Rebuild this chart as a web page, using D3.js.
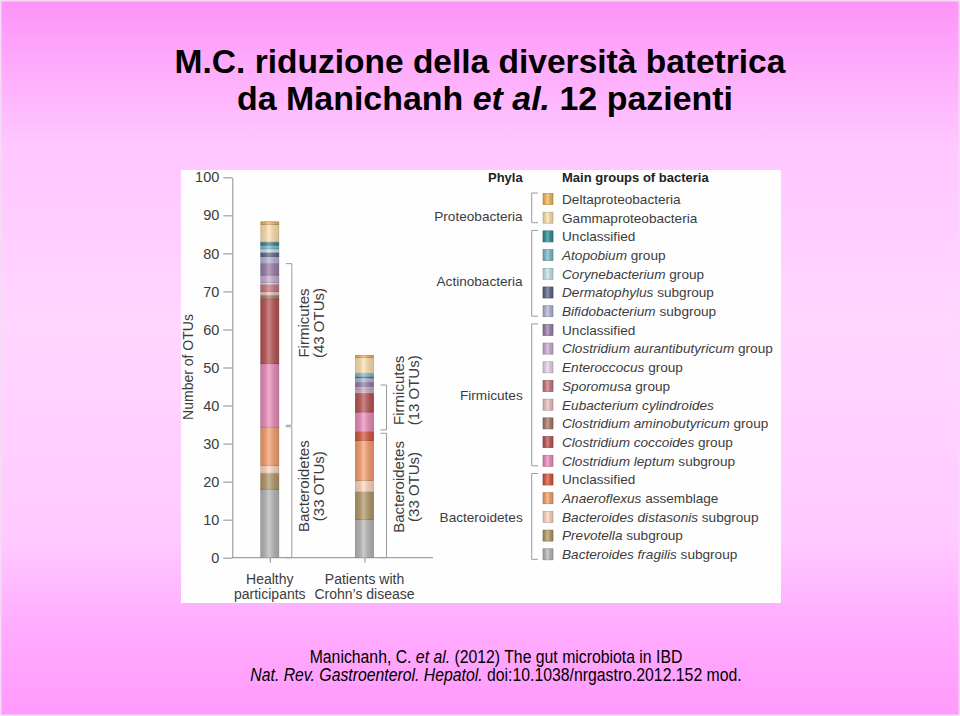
<!DOCTYPE html>
<html><head><meta charset="utf-8">
<script src="https://cdn.jsdelivr.net/npm/d3@7"></script>
<style>html,body{margin:0;padding:0;background:#fff}svg{display:block}</style>
</head><body>
<svg id="c" width="960" height="716"></svg>
<script>
// ---------- DATA ----------
const categories = ["Healthy participants", "Patients with Crohn’s disease"];
const categoryLines = [["Healthy", "participants"], ["Patients with", "Crohn’s disease"]];
const yTicks = [0, 10, 20, 30, 40, 50, 60, 70, 80, 90, 100];
// legend order (top to bottom)
const groupItalic = ["", "", "", "Atopobium", "Corynebacterium", "Dermatophylus", "Bifidobacterium", "",
  "Clostridium aurantibutyricum", "Enteroccocus", "Sporomusa", "Eubacterium cylindroides",
  "Clostridium aminobutyricum", "Clostridium coccoides", "Clostridium leptum", "",
  "Anaeroflexus", "Bacteroides distasonis", "Prevotella", "Bacteroides fragilis"];
const groupRest = ["Deltaproteobacteria", "Gammaproteobacteria", "Unclassified", " group", " group", " subgroup", " subgroup", "Unclassified",
  " group", " group", " group", "", " group", " group", " subgroup", "Unclassified",
  " assemblage", " subgroup", " subgroup", " subgroup"];
const groupColors = ["#f5b458", "#fde2ae", "#2a8a96", "#7cbaca", "#c6e3eb", "#5b6288", "#b3b5d5", "#9a7caa",
  "#c9acd1", "#ead5e9", "#c8747a", "#ecc2c4", "#a57767", "#b85150", "#ec8bbb", "#d9523a",
  "#f89e6c", "#fdd7c0", "#b29866", "#b7b7b7"];
// OTU counts per group, same order as legend
const healthyValues = [0.7, 4.6, 0.8, 1, 1, 1, 1.9, 3, 2, 0.5, 1.8, 1, 1, 17, 16.7, 0, 10, 2.1, 4.2, 18];
const crohnValues   = [0.6, 4.1, 0, 1, 0, 0.2, 1.2, 1, 1, 0.4, 0, 0.4, 0, 5, 5.2, 2.3, 10.5, 3, 7.3, 10];
// phyla
const phyla = ["Proteobacteria", "Actinobacteria", "Firmicutes", "Bacteroidetes"];
const phylaFirstRow = [0, 2, 7, 15];
const phylaLastRow = [1, 6, 14, 19];
const phylaLabelRow = [0.9, 4.4, 10.5, 17];
// brackets next to bars
const bracketCat = [0, 0, 1, 1];
const bracketStart = [0, 34.8, 0, 33.6];
const bracketEnd = [34.4, 77.3, 32.7, 45.4];
const bracketName = ["Bacteroidetes", "Firmicutes", "Bacteroidetes", "Firmicutes"];
const bracketCount = ["(33 OTUs)", "(43 OTUs)", "(33 OTUs)", "(13 OTUs)"];
const bracketLabelAt = [18.8, 61.7, 18.6, 44];

// ---------- DRAW ----------
const svg = d3.select("#c");
const defs = svg.append("defs");
const bg = defs.append("linearGradient").attr("id", "bg").attr("x1", 0).attr("y1", 0).attr("x2", 0).attr("y2", 1);
[[0, "#fd94f8"], [0.2, "#ffc6ff"], [0.45, "#ffd6ff"], [0.75, "#ffcaff"], [0.88, "#ffabff"], [1, "#ff9afb"]]
  .forEach(s => bg.append("stop").attr("offset", s[0]).attr("stop-color", s[1]));
const sh = defs.append("linearGradient").attr("id", "shade").attr("x1", 0).attr("y1", 0).attr("x2", 1).attr("y2", 0);
[[0, "#000", 0.12], [0.45, "#fff", 0.3], [1, "#000", 0.14]]
  .forEach(s => sh.append("stop").attr("offset", s[0]).attr("stop-color", s[1]).attr("stop-opacity", s[2]));

svg.append("rect").attr("width", 960).attr("height", 716).attr("fill", "url(#bg)");
svg.append("rect").attr("x", 0.75).attr("y", 0.75).attr("width", 958.5).attr("height", 714.5)
  .attr("fill", "none").attr("stroke", "#f3dcf3").attr("stroke-width", 1.5);

const font = "'Liberation Sans',Arial,sans-serif";
// narrow text: regular sans squeezed horizontally to the reference width
function narrowText(cx, cy, size, bold, target) {
  const g = svg.append("g");
  const t = g.append("text").attr("x", 0).attr("y", 0).attr("text-anchor", "middle")
    .attr("font-family", font).attr("font-weight", bold ? "bold" : "normal").attr("font-size", size).attr("fill", "#000");
  return { g, t, fit() {
    const w = t.node().getComputedTextLength();
    const s = w > 0 ? target / w : 1;
    g.attr("transform", `translate(${cx},${cy}) scale(${s.toFixed(4)},1)`);
  } };
}

// title
const t1 = narrowText(480, 73, 33, true, 611);
t1.t.text("M.C. riduzione della diversità batetrica"); t1.fit();
const t2 = narrowText(485, 110, 33, true, 496);
t2.t.append("tspan").text("da Manichanh ");
t2.t.append("tspan").attr("font-style", "italic").text("et al.");
t2.t.append("tspan").text(" 12 pazienti");
t2.fit();

// citation
const c1 = narrowText(496, 663, 17.5, false, 373);
c1.t.append("tspan").text("Manichanh, C. ");
c1.t.append("tspan").attr("font-style", "italic").text("et al.");
c1.t.append("tspan").text(" (2012) The gut microbiota in IBD");
c1.fit();
const c2 = narrowText(496, 681, 17.5, false, 492);
c2.t.append("tspan").attr("font-style", "italic").text("Nat. Rev. Gastroenterol. Hepatol.");
c2.t.append("tspan").text(" doi:10.1038/nrgastro.2012.152 mod.");
c2.fit();

// panel
svg.append("rect").attr("x", 181).attr("y", 170).attr("width", 600).attr("height", 433).attr("fill", "#fefefe");

const txt = "#3c3c3c";
const axisCol = "#8c8c8c";

const y = d3.scaleLinear().domain([0, 100]).range([557.7, 177.3]);
const x = d3.scalePoint().domain(categories).range([269.8, 364.5]);
const barW = 18;

// y axis
const ya = svg.append("g").attr("transform", "translate(232.3,0)")
  .call(d3.axisLeft(y).tickValues(yTicks).tickSize(9).tickSizeOuter(0).tickPadding(4));
ya.select(".domain").attr("stroke", axisCol);
ya.selectAll(".tick line").attr("stroke", axisCol);
ya.selectAll(".tick text").attr("font-family", font).attr("font-size", 14.5).attr("fill", txt);

svg.append("text").attr("transform", "translate(193,367) rotate(-90)").attr("text-anchor", "middle")
  .attr("font-family", font).attr("font-size", 14).attr("fill", txt).text("Number of OTUs");

// x axis
const xa = svg.append("g").attr("transform", `translate(0,${y(0)})`)
  .call(d3.axisBottom(x).tickSize(5).tickFormat(""));
xa.select(".domain").remove();
xa.selectAll(".tick line").attr("stroke", axisCol);
svg.append("line").attr("x1", 232.3).attr("x2", 433).attr("y1", y(0)).attr("y2", y(0)).attr("stroke", axisCol);
categories.forEach((c, i) => {
  const t = svg.append("text").attr("x", x(c)).attr("y", 584).attr("text-anchor", "middle")
    .attr("font-family", font).attr("font-size", 14).attr("fill", txt);
  categoryLines[i].forEach((l, j) => t.append("tspan").attr("x", x(c)).attr("dy", j ? 15 : 0).text(l));
});

// bars
[healthyValues, crohnValues].forEach((vals, ci) => {
  const cx = x(categories[ci]);
  const g = svg.append("g");
  let acc = 0;
  const segs = [];
  for (let k = vals.length - 1; k >= 0; k--) {
    if (vals[k] > 0) { segs.push({ k, y0: acc, y1: acc + vals[k] }); }
    acc += vals[k];
  }
  g.selectAll("rect.seg").data(segs).join("rect").attr("class", "seg")
    .attr("x", cx - barW / 2).attr("width", barW)
    .attr("y", d => y(d.y1)).attr("height", d => y(d.y0) - y(d.y1))
    .attr("fill", d => groupColors[d.k])
    .attr("stroke", d => d3.color(groupColors[d.k]).darker(0.7)).attr("stroke-width", 0.7);
  g.append("rect").attr("x", cx - barW / 2).attr("width", barW)
    .attr("y", y(acc)).attr("height", y(0) - y(acc)).attr("fill", "url(#shade)");
});

// brackets beside bars
bracketCat.forEach((ci, i) => {
  const bx = x(categories[ci]) + 22;
  const y0 = y(bracketStart[i]), y1 = y(bracketEnd[i]);
  svg.append("path").attr("d", `M${bx - 6},${y0}H${bx}V${y1}H${bx - 6}`)
    .attr("fill", "none").attr("stroke", "#9a9a9a").attr("stroke-width", 1);
  const ly = y(bracketLabelAt[i]);
  svg.append("text").attr("transform", `translate(${bx + 17.5},${ly}) rotate(-90)`).attr("text-anchor", "middle")
    .attr("font-family", font).attr("font-size", 15).attr("fill", txt).text(bracketName[i]);
  svg.append("text").attr("transform", `translate(${bx + 32.5},${ly}) rotate(-90)`).attr("text-anchor", "middle")
    .attr("font-family", font).attr("font-size", 15).attr("fill", txt).text(bracketCount[i]);
});

// legend
const rowY = r => 199 + r * 18.7;
svg.append("text").attr("x", 522.7).attr("y", 182).attr("text-anchor", "end").attr("font-family", font)
  .attr("font-weight", "bold").attr("font-size", 13).attr("fill", "#222").text("Phyla");
svg.append("text").attr("x", 562).attr("y", 182).attr("font-family", font)
  .attr("font-weight", "bold").attr("font-size", 13).attr("fill", "#222").text("Main groups of bacteria");

groupColors.forEach((col, r) => {
  const cy = rowY(r);
  svg.append("rect").attr("x", 543).attr("y", cy - 5.5).attr("width", 10).attr("height", 11)
    .attr("fill", col).attr("stroke", d3.color(col).darker(0.7)).attr("stroke-width", 0.7);
  svg.append("rect").attr("x", 543).attr("y", cy - 5.5).attr("width", 10).attr("height", 11).attr("fill", "url(#shade)");
  const t = svg.append("text").attr("x", 562).attr("y", cy + 4.8).attr("font-family", font)
    .attr("font-size", 13.6).attr("fill", txt);
  if (groupItalic[r]) t.append("tspan").attr("font-style", "italic").text(groupItalic[r]);
  if (groupRest[r]) t.append("tspan").text(groupRest[r]);
});

phyla.forEach((p, i) => {
  const top = rowY(phylaFirstRow[i]) - 6, bot = rowY(phylaLastRow[i]) + 5;
  svg.append("path").attr("d", `M538,${top}H531.7V${bot}H538`).attr("fill", "none")
    .attr("stroke", "#9a9a9a").attr("stroke-width", 1);
  svg.append("text").attr("x", 522.7).attr("y", rowY(phylaLabelRow[i]) + 4.8).attr("text-anchor", "end")
    .attr("font-family", font).attr("font-size", 13.6).attr("fill", txt).text(p);
});
</script>
</body></html>
